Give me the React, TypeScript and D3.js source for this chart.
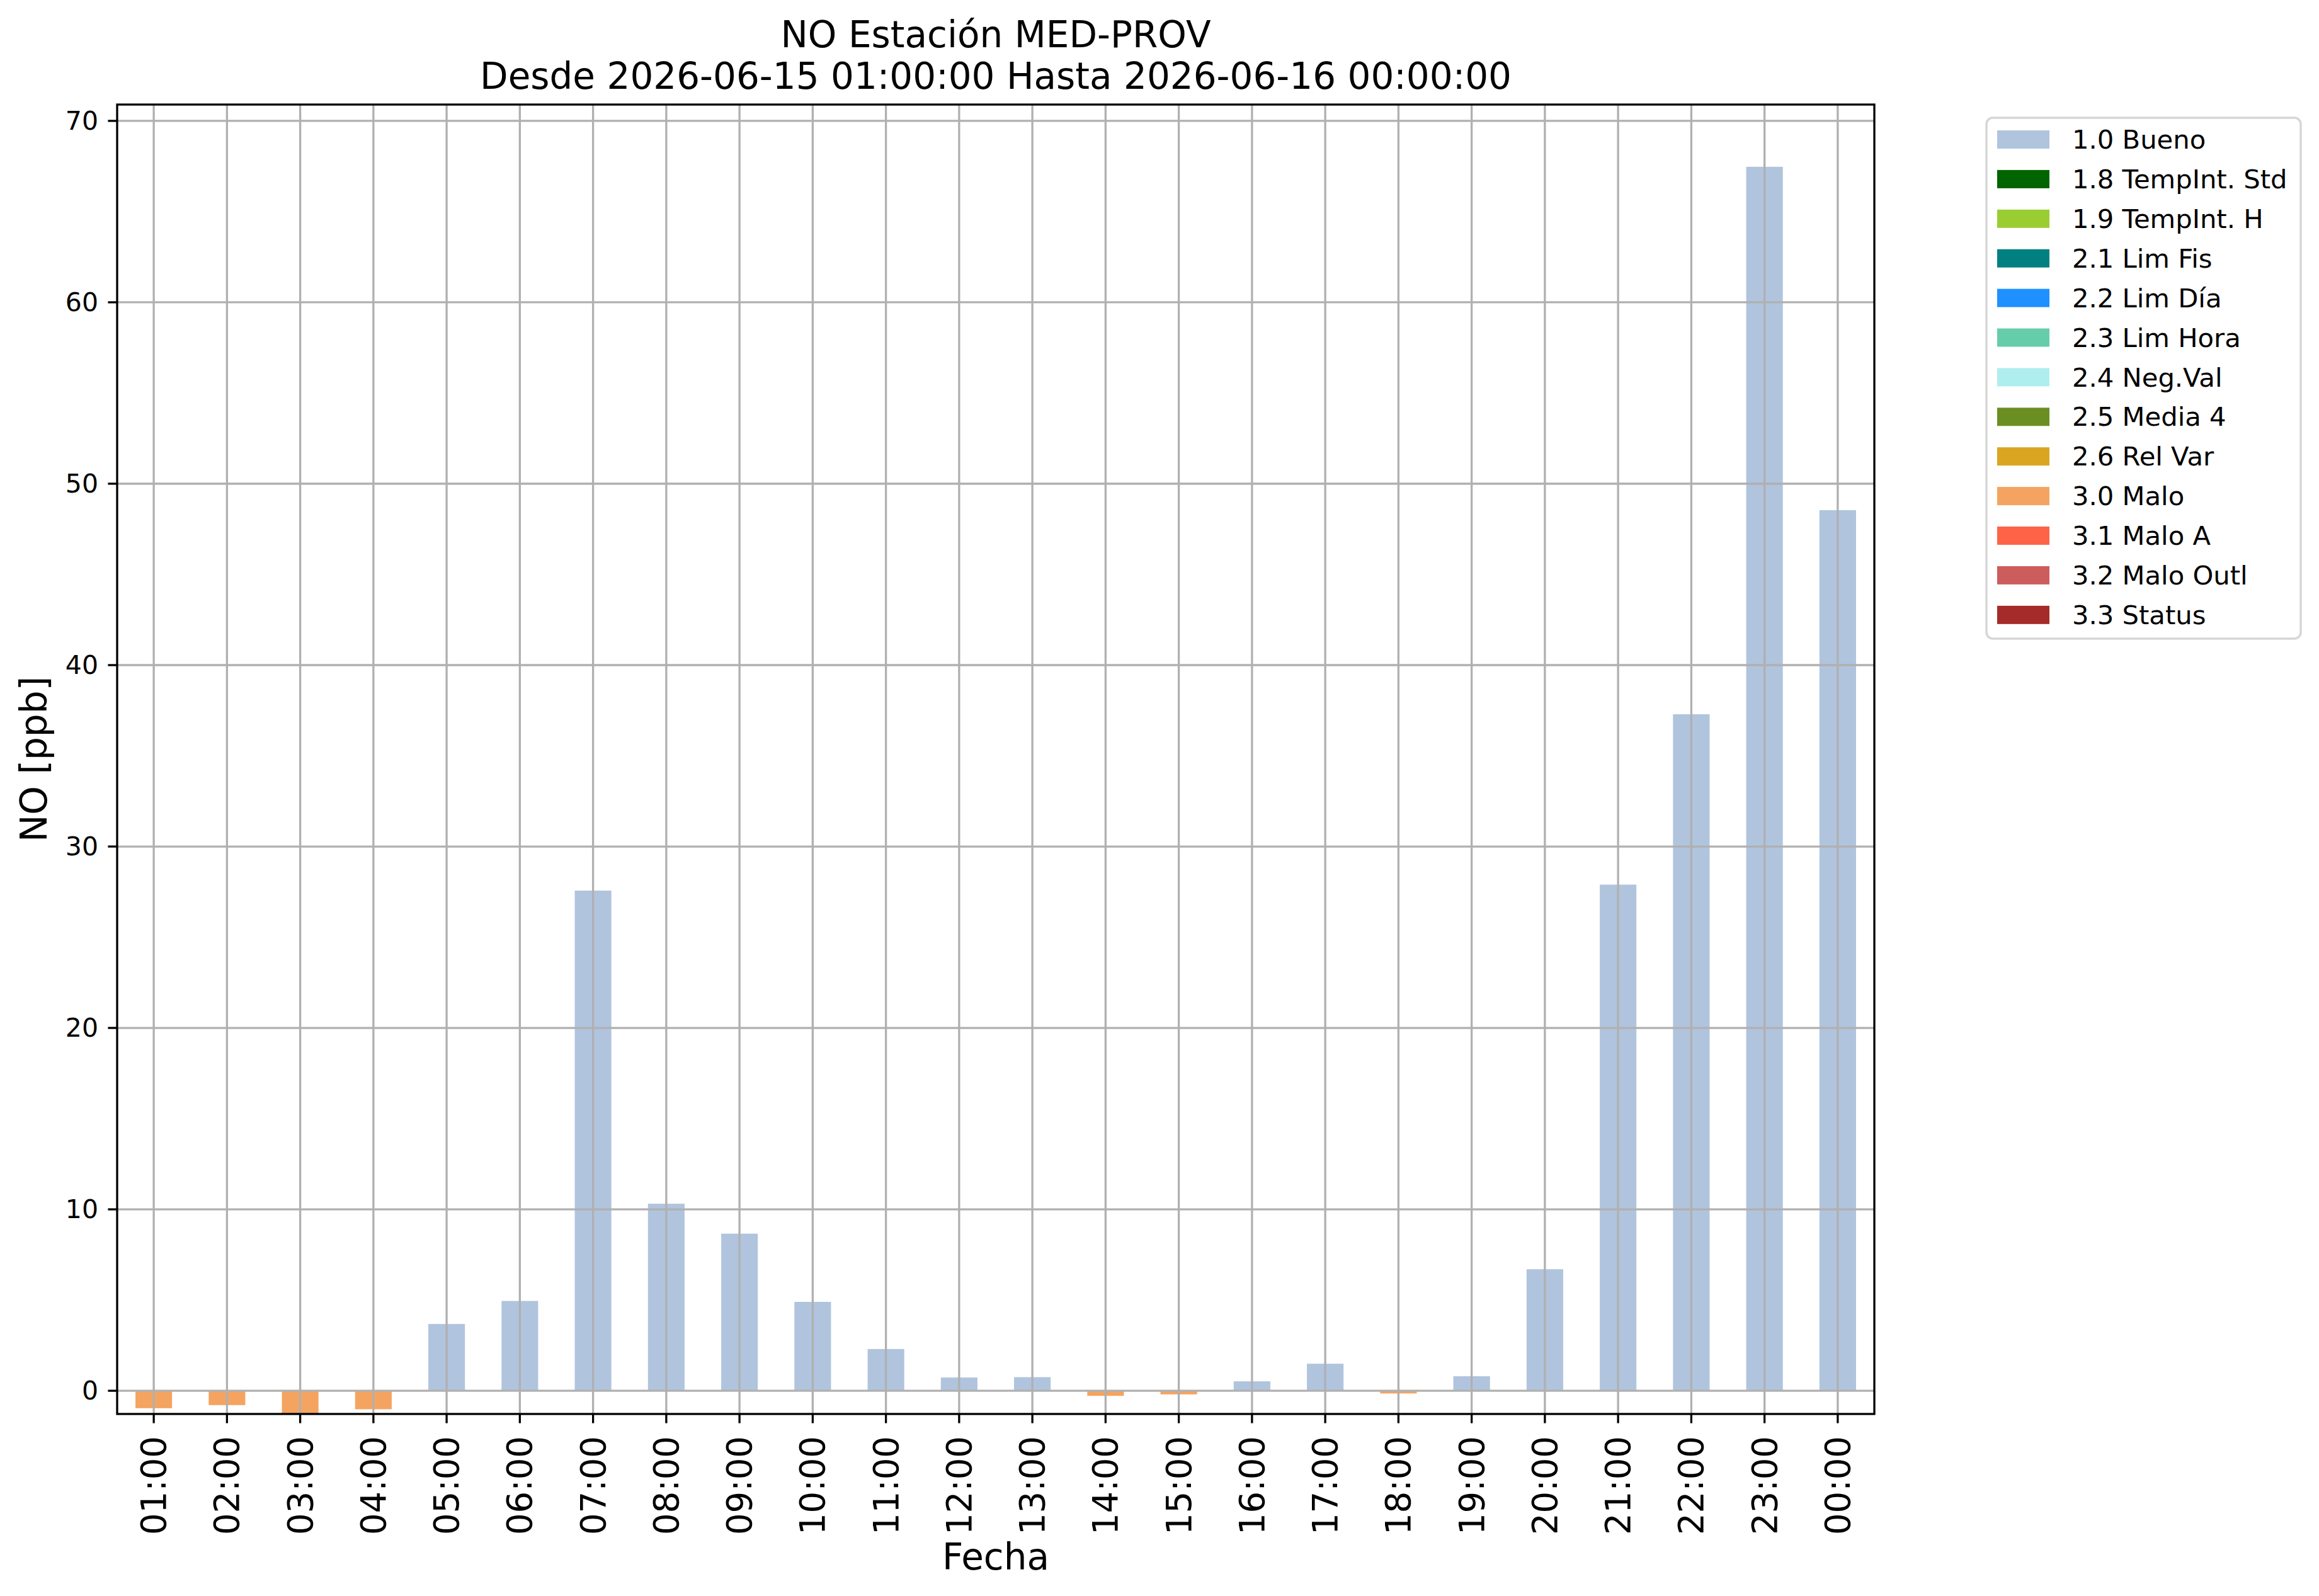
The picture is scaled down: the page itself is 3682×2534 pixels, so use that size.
import * as d3 from "d3";

// hourly NO values (ppb) and their quality flag
const hours = [
  "01:00", "02:00", "03:00", "04:00", "05:00", "06:00", "07:00", "08:00",
  "09:00", "10:00", "11:00", "12:00", "13:00", "14:00", "15:00", "16:00",
  "17:00", "18:00", "19:00", "20:00", "21:00", "22:00", "23:00", "00:00",
];
const values = [
  -0.96, -0.79, -1.28, -1.02, 3.68, 4.95, 27.57, 10.31,
  8.66, 4.9, 2.3, 0.73, 0.75, -0.28, -0.2, 0.52,
  1.49, -0.15, 0.8, 6.7, 27.9, 37.29, 67.47, 48.54,
];
const flags = [
  "3.0 Malo", "3.0 Malo", "3.0 Malo", "3.0 Malo", "1.0 Bueno", "1.0 Bueno", "1.0 Bueno", "1.0 Bueno",
  "1.0 Bueno", "1.0 Bueno", "1.0 Bueno", "1.0 Bueno", "1.0 Bueno", "3.0 Malo", "3.0 Malo", "1.0 Bueno",
  "1.0 Bueno", "3.0 Malo", "1.0 Bueno", "1.0 Bueno", "1.0 Bueno", "1.0 Bueno", "1.0 Bueno", "1.0 Bueno",
];

const flagNames = [
  "1.0 Bueno", "1.8 TempInt. Std", "1.9 TempInt. H", "2.1 Lim Fis", "2.2 Lim Día",
  "2.3 Lim Hora", "2.4 Neg.Val", "2.5 Media 4", "2.6 Rel Var", "3.0 Malo",
  "3.1 Malo A", "3.2 Malo Outl", "3.3 Status",
];
const flagColors = [
  "#b0c4de", "#006400", "#9acd32", "#008080", "#1e90ff",
  "#66cdaa", "#afeeee", "#6b8e23", "#daa520", "#f4a460",
  "#ff6347", "#cd5c5c", "#a52a2a",
];
const yTicks = [0, 10, 20, 30, 40, 50, 60, 70];
const yDomain = [-1.28, 70.9];

const W = 3682;
const H = 2534;
const margin = { left: 186, right: 2976, top: 166, bottom: 2245 };
const font = "'DejaVu Sans', sans-serif";
const lw = 3.3;

export default function App() {
  const x = d3
    .scaleBand<string>()
    .domain(hours)
    .range([margin.left, margin.right])
    .paddingInner(0.5)
    .paddingOuter(0.25);
  const y = d3.scaleLinear().domain(yDomain).range([margin.bottom, margin.top]);
  const color = d3.scaleOrdinal<string, string>().domain(flagNames).range(flagColors);
  const cx = (h: string) => (x(h) as number) + x.bandwidth() / 2;
  const midX = (margin.left + margin.right) / 2;
  const midY = (margin.top + margin.bottom) / 2;

  return (
    <svg
      width={W}
      height={H}
      style={{ position: "absolute", left: 0, top: 0, background: "#fff" }}
      fontFamily={font}
    >
      <defs>
        <clipPath id="plot-clip">
          <rect
            x={margin.left}
            y={margin.top}
            width={margin.right - margin.left}
            height={margin.bottom - margin.top}
          />
        </clipPath>
      </defs>

      {/* title */}
      <text x={midX} y={75} textAnchor="middle" fontSize={58}>
        NO Estación MED-PROV
      </text>
      <text x={midX} y={141} textAnchor="middle" fontSize={58}>
        Desde 2026-06-15 01:00:00 Hasta 2026-06-16 00:00:00
      </text>

      {/* bars */}
      <g clipPath="url(#plot-clip)">
        {hours.map((h, i) => {
          const v = values[i];
          const y0 = y(0);
          const y1 = y(v);
          return (
            <rect
              key={h}
              x={x(h)}
              y={Math.min(y0, y1)}
              width={x.bandwidth()}
              height={Math.abs(y1 - y0)}
              fill={color(flags[i])}
            />
          );
        })}
      </g>

      {/* grid, drawn over the bars like matplotlib */}
      <g stroke="#b0b0b0" strokeWidth={lw}>
        {hours.map((h) => (
          <line key={h} x1={cx(h)} x2={cx(h)} y1={margin.top} y2={margin.bottom} />
        ))}
        {yTicks.map((t) => (
          <line key={t} x1={margin.left} x2={margin.right} y1={y(t)} y2={y(t)} />
        ))}
      </g>

      {/* spines */}
      <rect
        x={margin.left}
        y={margin.top}
        width={margin.right - margin.left}
        height={margin.bottom - margin.top}
        fill="none"
        stroke="#000"
        strokeWidth={lw}
      />

      {/* y axis */}
      <g>
        {yTicks.map((t) => (
          <g key={t}>
            <line x1={margin.left - 14.6} x2={margin.left} y1={y(t)} y2={y(t)} stroke="#000" strokeWidth={lw} />
            <text x={156} y={y(t)} textAnchor="end" dominantBaseline="central" fontSize={41}>
              {t}
            </text>
          </g>
        ))}
      </g>
      <text transform={`translate(74,${midY}) rotate(-90)`} textAnchor="middle" fontSize={58}>
        NO [ppb]
      </text>

      {/* x axis */}
      <g>
        {hours.map((h) => (
          <g key={h}>
            <line x1={cx(h)} x2={cx(h)} y1={margin.bottom} y2={margin.bottom + 14.6} stroke="#000" strokeWidth={lw} />
            <text
              transform={`translate(${cx(h)},2280) rotate(-90)`}
              textAnchor="end"
              dominantBaseline="central"
              fontSize={54.5}
            >
              {h}
            </text>
          </g>
        ))}
      </g>
      <text x={midX} y={2492} textAnchor="middle" fontSize={58}>
        Fecha
      </text>

      {/* legend */}
      <g>
        <rect
          x={3154}
          y={187}
          width={499}
          height={827}
          rx={10}
          fill="#fff"
          fillOpacity={0.8}
          stroke="#d6d6d6"
          strokeWidth={3.5}
        />
        {flagNames.map((name, i) => {
          const rowY = 221.5 + i * 62.9;
          return (
            <g key={name}>
              <rect x={3171} y={rowY - 14.5} width={83} height={29} fill={flagColors[i]} />
              <text x={3290} y={rowY + 14.6} fontSize={41.7}>
                {name}
              </text>
            </g>
          );
        })}
      </g>
    </svg>
  );
}
